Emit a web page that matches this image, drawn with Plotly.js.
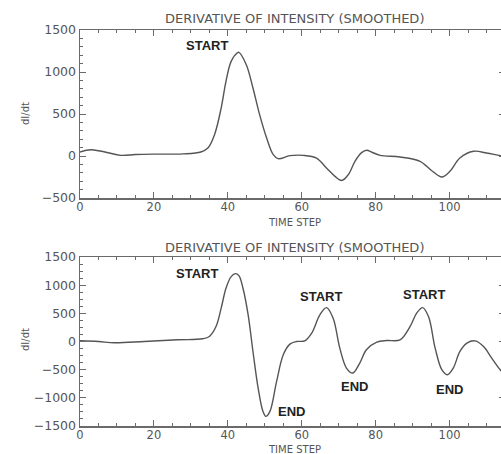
<!DOCTYPE html>
<html>
<head>
<meta charset="utf-8">
<script src="https://cdn.plot.ly/plotly-3.0.1.min.js"></script>
<style>
html,body{margin:0;padding:0;overflow:hidden;background:#fff;}
#chart{width:506px;height:454px;}
</style>
</head>
<body>
<div id="chart"></div>
<script>
// Top panel: derivative of intensity (smoothed)
const topX = [0, 3, 7, 11, 15, 20, 25, 28, 32.7, 34.6, 36.4, 38.2, 39.5, 40.9, 42.5, 43, 45, 46.8, 48.6, 50.5, 52.3, 53.6, 56.8, 60.4, 64, 66.7, 69, 70.8, 72.6, 74.4, 76.2, 77.6, 79, 81.2, 86.6, 92, 95.2, 97.9, 100.1, 102.8, 106.5, 110, 113.7, 116];
const topY = [48, 75, 45, 8, 18, 22, 22, 25, 48, 95, 254, 571, 889, 1127, 1226, 1234, 1087, 810, 492, 214, 16, -32, 4, 8, -24, -143, -242, -292, -222, -63, 40, 68, 45, 8, -12, -63, -175, -250, -182, -24, 56, 36, 4, -10];

// Bottom panel
const botX = [0, 5, 9.3, 17.4, 26.4, 33.2, 35, 36.8, 38.2, 39.5, 40.9, 42.1, 43, 44.1, 45.5, 46.8, 48.2, 49.5, 50.3, 51.4, 53.2, 55, 56.8, 58.6, 60.8, 62.7, 64.9, 66.7, 68.5, 70.3, 72.1, 73.8, 75.7, 77.5, 80.3, 83, 86.6, 89.3, 91.1, 92.7, 94.3, 96.1, 97.9, 99.4, 101, 102.8, 104.7, 106.9, 109.2, 111.4, 113.7, 116];
const botY = [12, 0, -23, 0, 30, 48, 89, 266, 592, 946, 1152, 1205, 1170, 946, 473, -177, -826, -1240, -1329, -1240, -709, -236, -46, 0, 12, 149, 473, 602, 414, -117, -471, -560, -383, -147, -12, 18, 30, 266, 503, 602, 443, -117, -501, -590, -471, -177, -28, 12, -89, -294, -501, -650];

// Labels
const titleText = "DERIVATIVE OF INTENSITY (SMOOTHED)";
const xTitle = "TIME STEP";
const yTitle = "dI/dt";
const topLabels = [{t: "START", x: 34.3, y: 1320}];
const botLabels = [
  {t: "START", x: 31.6, y: 1200},
  {t: "END", x: 57.2, y: -1250},
  {t: "START", x: 65.1, y: 800},
  {t: "END", x: 74.4, y: -800},
  {t: "START", x: 93.1, y: 840},
  {t: "END", x: 100, y: -855}
];

const H = 454;
const axisColor = "#6a6a6a";
const yTickFont = {family: "DejaVu Sans", size: 12.5, color: "#555"};
const xTickFont = {family: "DejaVu Sans", size: 11.5, color: "#555"};

function xaxisDef(dom) {
  return {
    range: [0, 115], domain: [0, 1], anchor: dom,
    showgrid: false, zeroline: false,
    showline: true, linecolor: axisColor, linewidth: 1.5, mirror: "ticks",
    ticks: "inside", ticklen: 6, tickwidth: 1, tickcolor: axisColor,
    dtick: 20, tick0: 0, tickfont: xTickFont, ticklabelstandoff: -2,
    minor: {ticks: "inside", dtick: 5, ticklen: 3, tickcolor: axisColor, showgrid: false}
  };
}
function yaxisDef(anchor, range, dtick, minorDtick, domain) {
  return {
    range: range, domain: domain, anchor: anchor,
    showgrid: false, zeroline: false,
    showline: true, linecolor: axisColor, linewidth: 1.5, mirror: "ticks",
    ticks: "inside", ticklen: 6, tickwidth: 1, tickcolor: axisColor,
    dtick: dtick, tick0: 0, tickfont: yTickFont, tickformat: "d",
    minor: {ticks: "inside", dtick: minorDtick, ticklen: 3, tickcolor: axisColor, showgrid: false}
  };
}

const traces = [
  {x: topX, y: topY, xaxis: "x", yaxis: "y", mode: "lines", type: "scatter",
   line: {color: "#555", width: 1.4, shape: "spline", smoothing: 1}, hoverinfo: "skip"},
  {x: botX, y: botY, xaxis: "x2", yaxis: "y2", mode: "lines", type: "scatter",
   line: {color: "#555", width: 1.4, shape: "spline", smoothing: 1}, hoverinfo: "skip"}
];

const annotations = [];
function addText(text, x, y, size, extra) {
  annotations.push(Object.assign({text: text, x: x, y: y, xref: "paper", yref: "paper",
    showarrow: false, font: {family: "DejaVu Sans", size: size, color: "#555"},
    xanchor: "center", yanchor: "middle"}, extra || {}));
}
const xc = (294 - 80) / 425;
addText(titleText, xc, 1 - 19 / H, 13);
addText(titleText, xc, 1 - 247 / H, 13);
addText(xTitle, xc, 1 - 222.5 / H, 10);
addText(xTitle, xc, 1 - 449.5 / H, 10);
addText(yTitle, (25 - 80) / 425, 1 - 113 / H, 10, {textangle: -90});
addText(yTitle, (25 - 80) / 425, 1 - 339 / H, 10, {textangle: -90});
topLabels.forEach(l => annotations.push({text: l.t, x: l.x, y: l.y, xref: "x", yref: "y",
  showarrow: false, font: {family: "Liberation Sans", size: 13, color: "#222", weight: "bold"},
  xanchor: "center", yanchor: "middle"}));
botLabels.forEach(l => annotations.push({text: l.t, x: l.x, y: l.y, xref: "x2", yref: "y2",
  showarrow: false, font: {family: "Liberation Sans", size: 13, color: "#222", weight: "bold"},
  xanchor: "center", yanchor: "middle"}));

const layout = {
  width: 506, height: H,
  margin: {l: 80, r: 1, t: 0, b: 0},
  paper_bgcolor: "#fff", plot_bgcolor: "#fff",
  showlegend: false,
  xaxis: xaxisDef("y"),
  yaxis: yaxisDef("x", [-500, 1500], 500, 100, [1 - 198 / H, 1 - 30 / H]),
  xaxis2: xaxisDef("y2"),
  yaxis2: yaxisDef("x2", [-1500, 1500], 500, 125, [1 - 426 / H, 1 - 257 / H]),
  annotations: annotations
};

Plotly.newPlot("chart", traces, layout, {staticPlot: true, displayModeBar: false});
</script>
</body>
</html>
